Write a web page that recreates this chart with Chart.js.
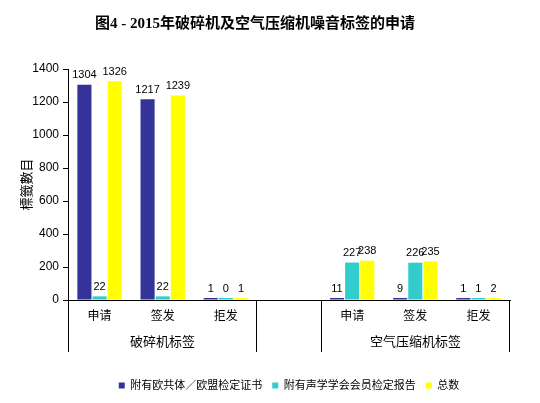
<!DOCTYPE html>
<html>
<head>
<meta charset="utf-8">
<script src="https://cdn.jsdelivr.net/npm/chart.js@4.4.1/dist/chart.umd.min.js"></script>
<style>
    html, body { margin: 0; padding: 0; background: #fff; }
</style>
</head>
<body>
<canvas id="chart" width="540" height="403"></canvas>
<script>
const categories = ['申请', '签发', '拒发', '', '申请', '签发', '拒发'];
const groupLabels = ['破碎机标签', '空气压缩机标签'];
const groupSpans = [[0, 2], [4, 6]];

const seriesNames = ['附有欧共体／欧盟检定证书', '附有声学学会会员检定报告', '总数'];
const euCertificate = [1304, 1217, 1, null, 11, 9, 1];
const acousticReport = [22, 22, 0, null, 227, 226, 1];
const totalCount = [1326, 1239, 1, null, 238, 235, 2];

const yMax = 1400;
const yStep = 200;

const sansFont = "Arial, 'Liberation Sans', 'Noto Sans CJK SC', sans-serif";

// value labels above each bar
const valueLabels = {
    id: 'valueLabels',
    afterDatasetsDraw(chart) {
        const ctx = chart.ctx;
        ctx.save();
        ctx.font = '11px ' + sansFont;
        ctx.fillStyle = '#000';
        ctx.textAlign = 'center';
        ctx.textBaseline = 'bottom';
        chart.data.datasets.forEach((ds, i) => {
            chart.getDatasetMeta(i).data.forEach((bar, j) => {
                if (ds.data[j] === null) return;
                ctx.fillText(String(ds.data[j]), bar.x, bar.y - 4);
            });
        });
        ctx.restore();
    }
};

// second level of the category axis: separators and group names
const groupAxis = {
    id: 'groupAxis',
    afterDraw(chart) {
        const ctx = chart.ctx;
        const x = chart.scales.x;
        const catW = (x.right - x.left) / categories.length;
        const top = chart.chartArea.bottom;
        ctx.save();
        ctx.strokeStyle = '#000';
        ctx.lineWidth = 1;
        ctx.fillStyle = '#000';
        ctx.font = '13px ' + sansFont;
        ctx.textAlign = 'center';
        ctx.textBaseline = 'middle';
        groupSpans.forEach((span, i) => {
            const left = Math.round(x.getPixelForValue(span[0]) - catW / 2) + 0.5;
            const right = Math.round(x.getPixelForValue(span[1]) + catW / 2) - 0.5;
            ctx.beginPath();
            ctx.moveTo(left, top);
            ctx.lineTo(left, top + 52);
            ctx.moveTo(right, top);
            ctx.lineTo(right, top + 52);
            ctx.stroke();
            ctx.fillText(groupLabels[i], (left + right) / 2, top + 42);
        });
        ctx.restore();
    }
};

new Chart(document.getElementById('chart').getContext('2d'), {
    type: 'bar',
    data: {
        labels: categories,
        datasets: [{
            label: seriesNames[0],
            data: euCertificate,
            backgroundColor: '#333399'
        }, {
            label: seriesNames[1],
            data: acousticReport,
            backgroundColor: '#33CCCC'
        }, {
            label: seriesNames[2],
            data: totalCount,
            backgroundColor: '#FFFF00'
        }]
    },
    options: {
        responsive: false,
        animation: false,
        devicePixelRatio: 1,
        categoryPercentage: 0.72,
        barPercentage: 0.93,
        minBarLength: 2,
        layout: { padding: { left: 0, right: 30, top: 0, bottom: 2 } },
        scales: {
            x: {
                grid: { display: false, drawTicks: false },
                border: { display: true, color: '#000' },
                ticks: {
                    color: '#000',
                    font: { family: sansFont, size: 12 },
                    padding: 9,
                    autoSkip: false,
                    maxRotation: 0
                },
                afterFit(scale) { scale.height = 70; }
            },
            y: {
                min: 0,
                max: yMax,
                ticks: {
                    stepSize: yStep,
                    color: '#000',
                    font: { family: sansFont, size: 12 },
                    padding: 4,
                    callback: value => String(value)
                },
                grid: { display: true, drawOnChartArea: false, drawTicks: true, tickLength: 5, color: '#000' },
                border: { display: true, color: '#000' },
                title: {
                    display: true,
                    text: '標籤數目',
                    color: '#000',
                    font: { family: "'Noto Sans CJK TC', " + sansFont, size: 13 },
                    padding: { top: 18, bottom: 0 }
                },
                afterFit(scale) { scale.width = 68; }
            }
        },
        plugins: {
            title: {
                display: true,
                text: '图4 - 2015年破碎机及空气压缩机噪音标签的申请',
                color: '#000',
                font: { family: "'Liberation Serif', 'Times New Roman', 'Noto Sans CJK SC', serif", size: 15, weight: 'bold' },
                padding: { top: 15, bottom: 36 }
            },
            legend: {
                position: 'bottom',
                fullSize: false,
                labels: {
                    boxWidth: 6,
                    boxHeight: 6,
                    padding: 10,
                    color: '#000',
                    font: { family: sansFont, size: 11 }
                }
            },
            tooltip: { enabled: false }
        }
    },
    plugins: [valueLabels, groupAxis]
});
</script>
</body>
</html>
